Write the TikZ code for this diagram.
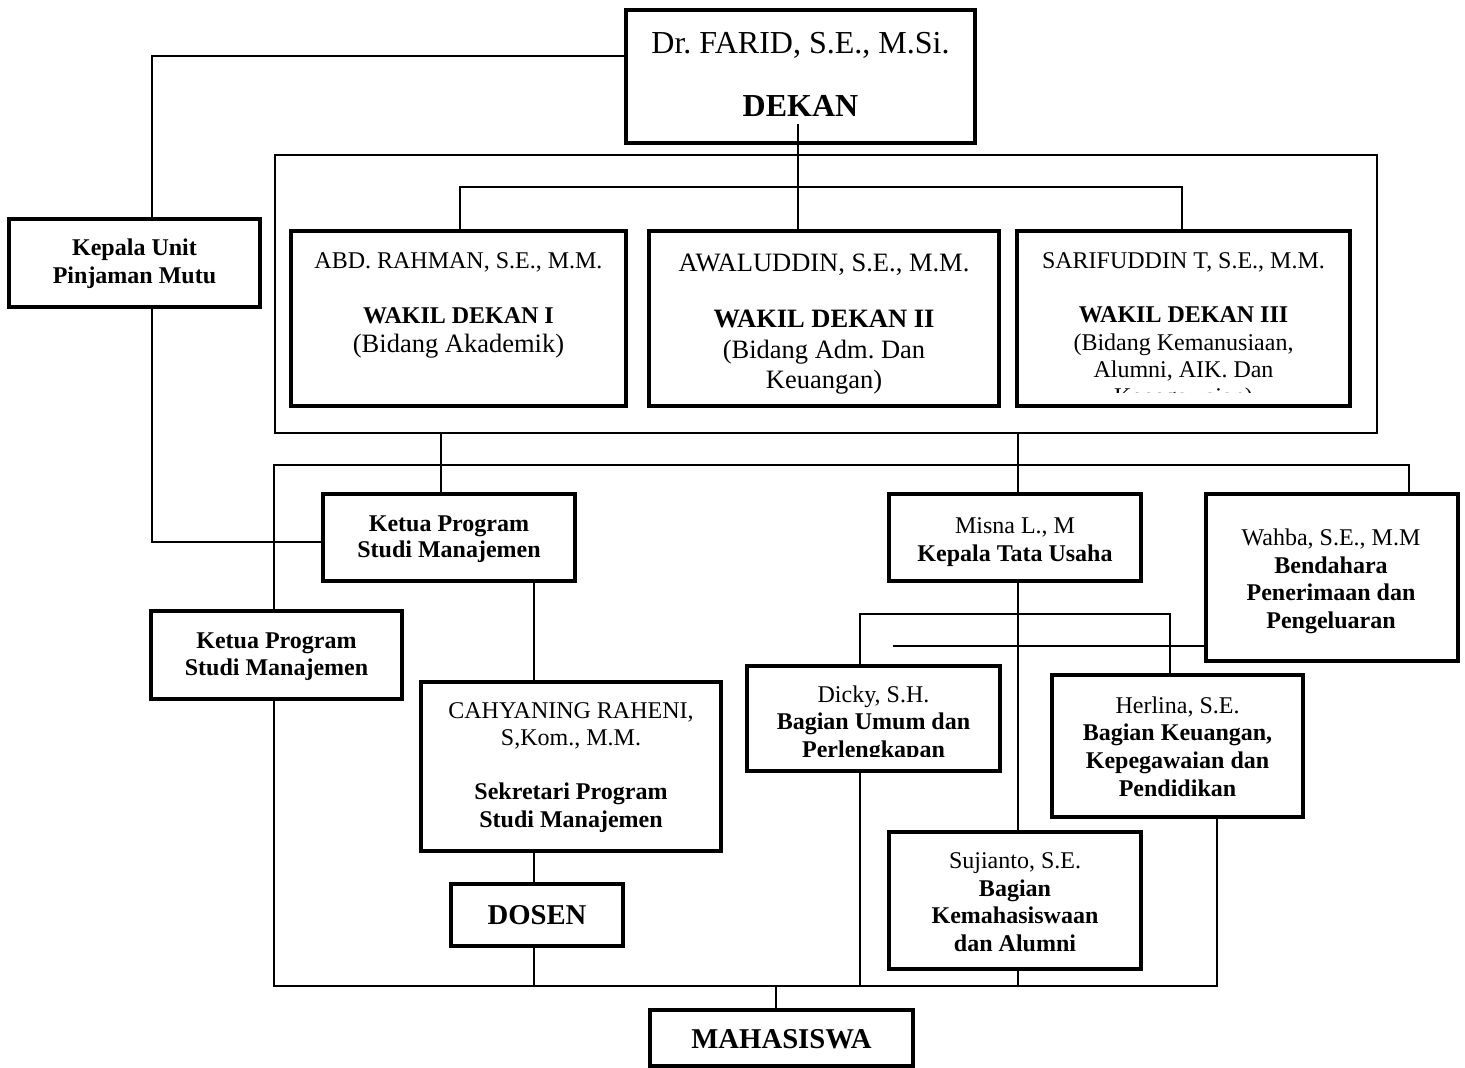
\documentclass[tikz,border=0pt]{standalone}
\usepackage{fontspec}
\setmainfont{Liberation Serif}
\frenchspacing
\begin{document}
\begin{tikzpicture}[x=1pt,y=-1pt,
  box/.style={draw, line width=4.5pt, inner sep=0pt, outer sep=0pt},
  framebox/.style={draw, line width=1.6pt, inner sep=0pt, outer sep=0pt},
  conn/.style={line width=1.6pt, line join=miter},
  tl/.style={anchor=base, inner sep=0pt, outer sep=0pt, font=\frenchspacing},
  r24/.style={font=\fontsize{24}{28}\selectfont\frenchspacing},
  b24/.style={font=\fontsize{24}{28}\selectfont\bfseries\frenchspacing},
  r26/.style={font=\fontsize{26.5}{30}\selectfont\frenchspacing},
  b26/.style={font=\fontsize{26.5}{30}\selectfont\bfseries\frenchspacing},
  r32/.style={font=\fontsize{32}{36}\selectfont\frenchspacing},
  b32/.style={font=\fontsize{32}{36}\selectfont\bfseries\frenchspacing},
  b29/.style={font=\fontsize{28.7}{32}\selectfont\bfseries\frenchspacing}]
\useasboundingbox (0,0) rectangle (1465,1068);
\fill[white] (0,0) rectangle (1465,1068);

% ---- boxes ----
\node[box, minimum width=349pt, minimum height=133pt] (dekan) at (800.5,76.5) {};
\node[box, minimum width=251pt, minimum height=88pt] (kpu) at (134.5,263) {};
\node[framebox, minimum width=1102pt, minimum height=278pt] (wkframe) at (826,294) {};
\node[box, minimum width=335pt, minimum height=175pt] (wk1) at (458.5,318.5) {};
\node[box, minimum width=350pt, minimum height=175pt] (wk2) at (824,318.5) {};
\node[box, minimum width=333pt, minimum height=175pt] (wk3) at (1183.5,318.5) {};
\node[box, minimum width=252pt, minimum height=87pt] (ketua1) at (449,537.5) {};
\node[box, minimum width=251pt, minimum height=88pt] (ketua2) at (276.5,655) {};
\node[box, minimum width=300pt, minimum height=169pt] (cahy) at (571,766.5) {};
\node[box, minimum width=172pt, minimum height=62pt] (dosen) at (537,915) {};
\node[box, minimum width=263pt, minimum height=56pt] (mhs) at (781.5,1038) {};
\node[box, minimum width=252pt, minimum height=87pt] (misna) at (1015,537.5) {};
\node[box, minimum width=252pt, minimum height=167pt] (wahba) at (1332,577.5) {};
\node[box, minimum width=253pt, minimum height=105pt] (dicky) at (873.5,718.5) {};
\node[box, minimum width=251pt, minimum height=142pt] (herlina) at (1177.5,746) {};
\node[box, minimum width=252pt, minimum height=137pt] (suj) at (1015,900.5) {};

% ---- junction coordinates ----
\coordinate (j1) at (152,56);
\coordinate (j2) at (152,542);
\coordinate (dk) at (798,124);
\coordinate (br1) at (460,187);
\coordinate (br2) at (1182,187);
\coordinate (v1) at (441,465);
\coordinate (v2) at (1018,465);
\coordinate (h1) at (274,465);
\coordinate (h2) at (1409,465);
\coordinate (bl) at (274,986);
\coordinate (brr) at (1217,986);
\coordinate (v3) at (534,986);
\coordinate (v4) at (776,986);
\coordinate (b1) at (860,614);
\coordinate (b2) at (1170,614);
\coordinate (wl) at (893,646);

% ---- connectors ----
\draw[conn] (dekan.west |- j1) -- (j1) -- (j1 |- kpu.north);
\draw[conn] (j1 |- kpu.south) -- (j2) -- (j2 -| ketua1.west);
\draw[conn] (dk) -- (dk |- wk2.north);
\draw[conn] (br1 |- wk1.north) -- (br1) -- (br2) -- (br2 |- wk3.north);
\draw[conn] (v1 |- wkframe.south) -- (v1 |- ketua1.north);
\draw[conn] (v2 |- wkframe.south) -- (v2 |- misna.north);
\draw[conn] (h1 |- ketua2.north) -- (h1) -- (h2) -- (h2 |- wahba.north);
\draw[conn] (h1 |- ketua2.south) -- (bl) -- (brr) -- (brr |- herlina.south);
\draw[conn] (v3 |- ketua1.south) -- (v3 |- cahy.north);
\draw[conn] (v3 |- cahy.south) -- (v3 |- dosen.north);
\draw[conn] (v3 |- dosen.south) -- (v3);
\draw[conn] (v4) -- (v4 |- mhs.north);
\draw[conn] (v2 |- misna.south) -- (v2 |- suj.north);
\draw[conn] (v2 |- suj.south) -- (v2 |- bl);
\draw[conn] (b1 |- dicky.north) -- (b1) -- (b2) -- (b2 |- herlina.north);
\draw[conn] (b1 |- dicky.south) -- (b1 |- bl);
\draw[conn] (wl) -- (wl -| wahba.west);

% ---- texts ----
\node[tl,r32] (t-dk1) at (800.5,53) {Dr. FARID, S.E., M.Si.};
\node[tl,b32] (t-dk2) at (800.5,116) {DEKAN};

\node[tl,b24] (t-kpu1) at (134.5,255) {Kepala Unit};
\node[tl,b24] (t-kpu2) at (134.5,283) {Pinjaman Mutu};

\node[tl,r24] (t-w11) at (458.5,268) {ABD. RAHMAN, S.E., M.M.};
\node[tl,b24] (t-w12) at (458.5,323) {WAKIL DEKAN I};
\node[tl,r26] (t-w13) at (458.5,352) {(Bidang Akademik)};

\node[tl,r26] (t-w21) at (824,271) {AWALUDDIN, S.E., M.M.};
\node[tl,b26] (t-w22) at (824,327) {WAKIL DEKAN II};
\node[tl,r26] (t-w23) at (824,358) {(Bidang Adm. Dan};
\node[tl,r26] (t-w24) at (824,388) {Keuangan)};

\node[tl,r24] (t-w31) at (1183.5,268) {SARIFUDDIN T, S.E., M.M.};
\node[tl,b24] (t-w32) at (1183.5,322) {WAKIL DEKAN III};
\node[tl,r24] (t-w33) at (1183.5,350) {(Bidang Kemanusiaan,};
\node[tl,r24] (t-w34) at (1183.5,377) {Alumni, AIK. Dan};
\begin{scope}
\clip (1020,380) rectangle (1347,392.3);
\node[tl,r24] (t-w35) at (1183.5,404) {Kepegawaian)};
\end{scope}

\node[tl,b24] (t-k11) at (449,531) {Ketua Program};
\node[tl,b24] (t-k12) at (449,557) {Studi Manajemen};
\node[tl,b24] (t-k21) at (276.5,648) {Ketua Program};
\node[tl,b24] (t-k22) at (276.5,675) {Studi Manajemen};

\node[tl,r24] (t-c1) at (571,718) {CAHYANING RAHENI,};
\node[tl,r24] (t-c2) at (571,745) {S,Kom., M.M.};
\node[tl,b24] (t-c3) at (571,799) {Sekretari Program};
\node[tl,b24] (t-c4) at (571,827) {Studi Manajemen};

\node[tl,b29] (t-dos) at (537,924) {DOSEN};
\node[tl,b29] (t-mhs) at (781.5,1048) {MAHASISWA};

\node[tl,r24] (t-m1) at (1015,533) {Misna L., M};
\node[tl,b24] (t-m2) at (1015,561) {Kepala Tata Usaha};

\node[tl,r24] (t-wa1) at (1331,545) {Wahba, S.E., M.M};
\node[tl,b24] (t-wa2) at (1331,573) {Bendahara};
\node[tl,b24] (t-wa3) at (1331,600.5) {Penerimaan dan};
\node[tl,b24] (t-wa4) at (1331,628) {Pengeluaran};

\node[tl,r24] (t-d1) at (873.5,702) {Dicky, S.H.};
\node[tl,b24] (t-d2) at (873.5,729.5) {Bagian Umum dan};
\begin{scope}
\clip (750,735) rectangle (997,756.7);
\node[tl,b24] (t-d3) at (873.5,757) {Perlengkapan};
\end{scope}

\node[tl,r24] (t-h1) at (1177.5,713) {Herlina, S.E.};
\node[tl,b24] (t-h2) at (1177.5,740.5) {Bagian Keuangan,};
\node[tl,b24] (t-h3) at (1177.5,768) {Kepegawaian dan};
\node[tl,b24] (t-h4) at (1177.5,796) {Pendidikan};

\node[tl,r24] (t-s1) at (1015,868) {Sujianto, S.E.};
\node[tl,b24] (t-s2) at (1015,896) {Bagian};
\node[tl,b24] (t-s3) at (1015,923.5) {Kemahasiswaan};
\node[tl,b24] (t-s4) at (1015,951) {dan Alumni};
\end{tikzpicture}
\end{document}
